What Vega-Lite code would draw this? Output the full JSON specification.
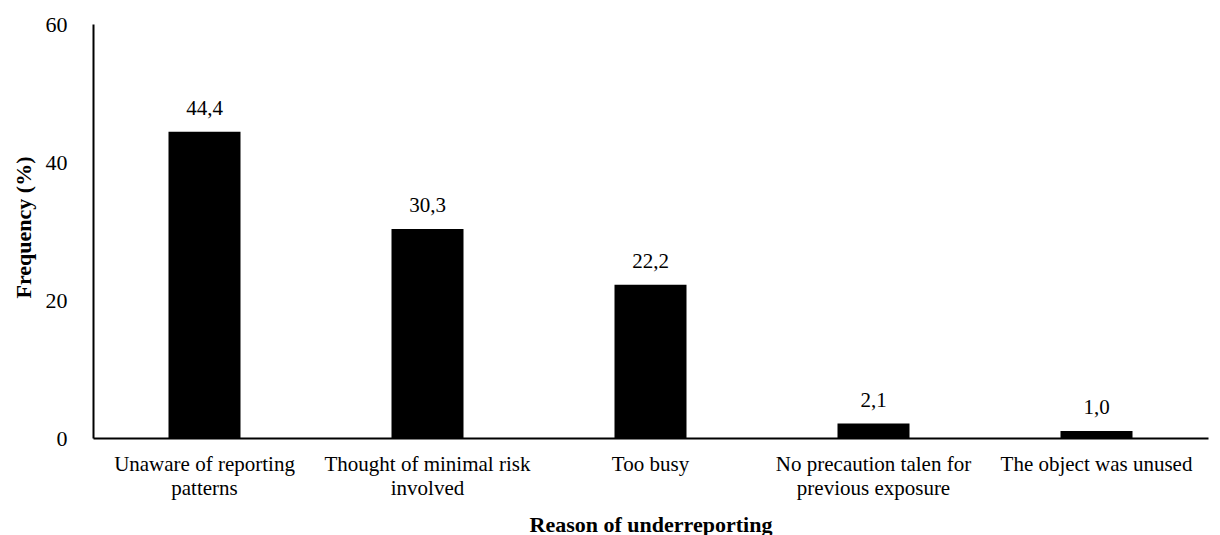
{
  "$schema": "https://vega.github.io/schema/vega-lite/v6.json",
  "autosize": "none",
  "width": 1115,
  "height": 414,
  "padding": {"left": 93, "top": 24, "right": 12, "bottom": 97},
  "background": "white",
  "config": {
    "view": {"stroke": null},
    "font": "Liberation Serif, Times New Roman, serif",
    "locale": {"number": {"decimal": ",", "thousands": ".", "grouping": [3], "currency": ["", ""]}}
  },
  "data": {
    "values": [
      {"reason": "Unaware of reporting patterns", "freq": 44.4},
      {"reason": "Thought of minimal risk involved", "freq": 30.3},
      {"reason": "Too busy", "freq": 22.2},
      {"reason": "No precaution talen for previous exposure", "freq": 2.1},
      {"reason": "The object was unused", "freq": 1.0}
    ]
  },
  "encoding": {
    "x": {
      "field": "reason",
      "type": "nominal",
      "sort": null,
      "title": "Reason of underreporting",
      "axis": {
        "labelAngle": 0,
        "labelFont": "Liberation Serif, Times New Roman, serif",
        "labelFontSize": 21,
        "labelColor": "black",
        "labelLineHeight": 24,
        "labelPadding": 15,
        "labelLimit": 0,
        "ticks": false,
        "domainColor": "black",
        "domainWidth": 2,
        "labelExpr": "datum.value == 'Unaware of reporting patterns' ? ['Unaware of reporting', 'patterns'] : datum.value == 'Thought of minimal risk involved' ? ['Thought of minimal risk', 'involved'] : datum.value == 'No precaution talen for previous exposure' ? ['No precaution talen for', 'previous exposure'] : datum.value",
        "titleFont": "Liberation Serif, Times New Roman, serif",
        "titleFontSize": 22,
        "titleFontWeight": "bold",
        "titleColor": "black",
        "titleBaseline": "alphabetic",
        "titleY": 93
      }
    },
    "y": {
      "field": "freq",
      "type": "quantitative",
      "scale": {"domain": [0, 60], "nice": false},
      "title": "Frequency (%)",
      "axis": {
        "values": [0, 20, 40, 60],
        "grid": false,
        "ticks": false,
        "labelFont": "Liberation Serif, Times New Roman, serif",
        "labelFontSize": 22,
        "labelColor": "black",
        "labelPadding": 26,
        "domainColor": "black",
        "domainWidth": 2,
        "titleFont": "Liberation Serif, Times New Roman, serif",
        "titleFontSize": 22,
        "titleFontWeight": "bold",
        "titleColor": "black",
        "titleX": -70,
        "titleY": 203,
        "titleAngle": -90,
        "titleAlign": "center",
        "titleBaseline": "middle"
      }
    }
  },
  "layer": [
    {"mark": {"type": "bar", "color": "black", "width": 72}},
    {
      "mark": {"type": "text", "baseline": "middle", "dy": -23, "fontSize": 21, "font": "Liberation Serif, Times New Roman, serif", "color": "black"},
      "encoding": {"text": {"field": "freq", "type": "quantitative", "format": ".1f"}}
    }
  ]
}
